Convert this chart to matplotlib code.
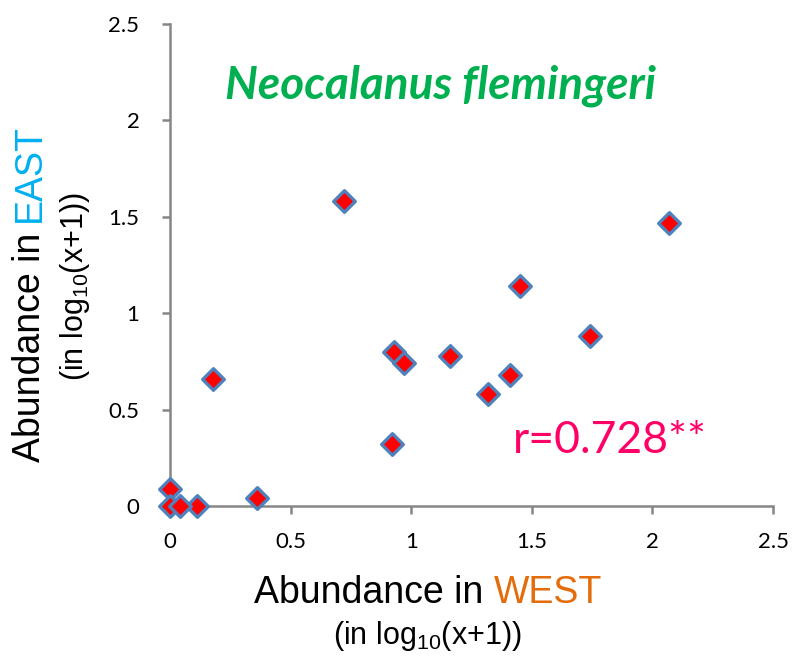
import matplotlib
matplotlib.use('Agg')
import matplotlib.pyplot as plt

plt.rcParams['mathtext.fontset'] = 'custom'
plt.rcParams['mathtext.rm'] = 'Liberation Sans'
plt.rcParams['mathtext.it'] = 'Liberation Sans:italic'

# log10(x+1) abundance, west vs east
west = [0.72, 2.07, 1.45, 1.74, 0.93, 0.97, 1.16, 1.41, 1.32, 0.92, 0.18, 0.36, 0.11, 0.0, 0.0, 0.04]
east = [1.58, 1.47, 1.14, 0.88, 0.80, 0.74, 0.78, 0.68, 0.58, 0.32, 0.66, 0.04, 0.0, 0.09, 0.0, 0.0]
ticks = [0, 0.5, 1, 1.5, 2, 2.5]
tick_labels = ['0', '0.5', '1', '1.5', '2', '2.5']

fig = plt.figure(figsize=(8.08, 6.56), dpi=100)
ax = fig.add_axes([0.2104, 0.2287, 0.7463, 0.7347])

ax.scatter(west, east, marker='D', s=11**2, facecolor='#FF0000',
           edgecolor='#4F81BD', linewidth=2.4, zorder=3, clip_on=False)

ax.set_xlim(0, 2.5)
ax.set_ylim(0, 2.5)
ax.set_xticks(ticks)
ax.set_xticklabels(tick_labels)
ax.set_yticks(ticks)
ax.set_yticklabels(tick_labels)
for s in ['top', 'right']:
    ax.spines[s].set_visible(False)
for s in ['left', 'bottom']:
    ax.spines[s].set_color('#868686')
    ax.spines[s].set_linewidth(1.8)
ax.tick_params(axis='both', direction='out', length=6, width=1.8, color='#868686',
               labelsize=16)
ax.tick_params(axis='x', pad=13)
ax.tick_params(axis='y', pad=16)
for lab in ax.get_xticklabels() + ax.get_yticklabels():
    lab.set_family('Lato')

ax.text(1.12, 2.18, 'Neocalanus flemingeri', color='#00B050', fontsize=33,
        fontweight='bold', fontstyle='italic', family='Lato', ha='center', va='center')
ax.text(1.42, 0.34, 'r=0.728**', color='#FF0066', fontsize=32, family='Lato',
        ha='left', va='center')

# two-coloured axis labels
fig.canvas.draw()
r = fig.canvas.get_renderer()
W, H = 808, 656
lab_kw = dict(fontsize=27, family='Liberation Sans')
sub_kw = dict(fontsize=22, family='Liberation Sans')

full = fig.text(0, 0, 'Abundance in WEST', **lab_kw)
fw = full.get_window_extent(r).width
full.remove()
x0 = (428 - fw / 2) / W
fig.text(x0, 1 - 593 / H, 'Abundance in', color='black', ha='left', va='center', **lab_kw)
fig.text(x0 + fw / W, 1 - 593 / H, 'WEST', color='#E46C0A', ha='right', va='center', **lab_kw)
fig.text(427 / W, 1 - 636 / H, r'(in log$_{10}$(x+1))', ha='center', va='center', **sub_kw)

full = fig.text(0, 0, 'Abundance in EAST', rotation=90, **lab_kw)
fh = full.get_window_extent(r).height
full.remove()
y0 = (H - 293 - fh / 2) / H
fig.text(30 / W, y0, 'Abundance in', color='black', rotation=90, ha='center', va='bottom', **lab_kw)
fig.text(30 / W, y0 + fh / H, 'EAST', color='#00B0F0', rotation=90, ha='center', va='top', **lab_kw)
fig.text(75 / W, 1 - 287 / H, r'(in log$_{10}$(x+1))', rotation=90, ha='center', va='center',
         **sub_kw)

fig.savefig('out.png', dpi=100)
